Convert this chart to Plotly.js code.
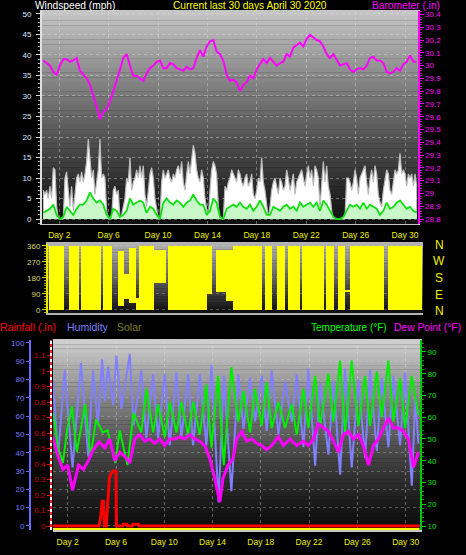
<!DOCTYPE html>
<html>
<head>
<meta charset="utf-8">
<script src="https://cdn.plot.ly/plotly-3.0.1.min.js"></script>
<style>
html,body{margin:0;padding:0;background:#000;}
#chart{width:466px;height:555px;}
</style>
</head>
<body>
<div id="chart"></div>
<script>
// ---------- DATA ----------
const dayTicks = [2, 6, 10, 14, 18, 22, 26, 30];
const dayLabels = ['Day 2', 'Day 6', 'Day 10', 'Day 14', 'Day 18', 'Day 22', 'Day 26', 'Day 30'];

// wind gust (mph), sampled every 0.135 day from day 0.704
const gustStart = 0.704, gustStep = 0.135;
const windGust = [
  7,6,7,5,8,5,12.5,12,3,0,0,0,0,10,11.5,7,3,8,2,6,
  10,11,9,11.5,9,11,14,19.5,14,10,12,6,9,12,19.5,10,11,10,2,0,
  0,0,7,8,6,7,0,1,3,5,10,9,15,7,9,10,12,10,13,10,
  13,6,3,8,11,12.5,10,5,2,0,0,9,12,10,11,12,10,9,11,10,
  12,13,11,14,9,7,11,14,11,15,18,16,12,10,9,12,10,5,2,0,
  7,12,14,13,11,3,0,0,0,8,7,9,10,12,11,10,9,12,11,9,
  8,10,11,8,9,11,6,5,7,10,9,15,9,7,3,0,3,7,9,10,
  8,6,10,9,7,8,12,10,7,9,11,6,9,10,11,12,10,8,11,13,
  10,12,8,13,12,10,3,10,14,9,13,8,6,2,0,0,0,0,0,0,
  0,0,10,10,9,7,9,12,10,6,10,11,12,13,9,6,10,12,9,13,
  11,6,4,3,7,10,12,11,7,6,9,12,11,12,16,11,12,11,8,11,
  10,11,8,11,8
];

// average wind (mph) and barometer (inHg), sampled every 0.27 day from day 0.704
const avgStart = 0.704, avgStep = 0.27;
const windAvg = [
  1.5,2,2.5,3.5,1,0,0.5,3,2,1,
  2.5,3.5,3.5,4.5,6.5,5,4,4.5,3.5,1,
  0,2.5,2,0.5,1,2,5,3.5,4,4.5,
  4,1.5,3,2.5,1,0,4,5,4,3.5,
  4.5,4,3,4,4.5,6,4.5,3.5,3.5,1,
  2,5,4,0.5,0,2.5,3,3.5,3,4,
  3,2.5,3.5,2,3,4.5,3,1,1,3,
  2.5,2,3,3.5,2.5,3,2,4,3,3.5,
  4,3,4,2,4.5,3.5,2,0.5,0,0,
  0.5,2,3.5,3,3.5,2.5,4,2.5,3.5,3,
  2.5,1,2,4,2.5,3,4,4.5,3.5,2.5,
  3,2,1.5
];
const barometer = [
  30.04,30.02,30.00,29.95,29.93,30.00,30.05,30.05,30.03,30.04,
  30.06,29.96,29.93,29.90,29.85,29.77,29.68,29.58,29.64,29.66,
  29.72,29.80,29.88,29.97,30.06,30.09,30.00,29.92,29.92,29.90,
  29.88,29.94,29.98,30.00,30.03,30.04,29.98,29.98,30.02,30.01,
  29.98,29.97,29.96,29.99,29.97,29.98,30.06,30.12,30.07,30.15,
  30.19,30.20,30.11,30.09,30.04,29.93,29.88,29.89,29.87,29.80,
  29.85,29.87,29.92,29.90,29.97,30.01,30.05,30.02,30.06,30.03,
  30.00,30.02,30.03,30.09,30.07,30.14,30.16,30.18,30.15,30.21,
  30.24,30.22,30.20,30.19,30.15,30.09,30.06,30.09,30.04,30.00,
  30.01,30.02,29.97,29.95,29.97,29.98,29.97,30.00,30.06,30.07,
  30.04,30.04,30.02,29.95,29.94,29.95,29.98,29.96,30.01,30.03,
  30.08,30.03,30.03
];

// wind direction spans (day start/end, degrees low/high)
const dirStart = [0.80,2.40,3.37,5.13,6.33,6.82,7.22,7.78,8.02,9.22,10.35,13.47,14.20,15.00,15.56,18.13,19.09,19.97,21.09,23.02,23.98,24.54,24.94,27.99];
const dirEnd   = [2.00,3.21,4.97,5.85,6.82,7.22,7.78,8.02,9.22,10.18,13.47,13.87,15.00,15.56,17.89,18.69,19.73,20.93,22.86,23.66,24.54,24.94,27.67,30.72];
const dirLow   = [0,0,0,0,20,60,40,0,0,150,0,90,100,50,0,0,0,0,0,0,0,100,0,0];
const dirHigh  = [360,360,360,360,330,200,350,70,360,340,360,360,340,340,360,360,360,360,360,360,360,115,360,360];
const compass = ['N', 'W', 'S', 'E', 'N'];

// temperature (F)
const tempX = [0.78,1.2,1.6,1.95,2.35,2.75,3.45,3.9,4.35,4.9,5.3,5.95,6.3,6.95,7.45,8.1,8.52,9.07,9.49,10.04,10.45,11.01,11.42,11.97,12.39,12.94,13.49,13.91,14.46,14.93,15.56,16.14,16.56,17.11,17.52,18.08,18.49,18.90,19.46,20.01,20.56,20.98,21.53,21.94,22.50,22.91,23.60,24.02,24.57,24.98,25.53,26.09,26.64,27.05,27.61,28.02,28.57,28.99,29.54,29.95,30.51,31.06];
const tempY = [62,46,39,54,65,44,66,42,59,53,54,39,54,38,62,53,73,53,66,51,67,53,67,52,67,52,75,46,79,38,83,58,72,53,73,56,76,55,67,55,66,52,73,55,79,56,80,58,86,53,86,56,79,56,81,60,86,58,78,55,79,61];

// humidity (%)
const humX = [0.78,1.2,1.75,2.4,3.1,3.7,4.1,4.5,4.85,5.07,5.34,5.76,6.03,6.45,7.14,7.45,8.1,8.52,9.07,9.49,10.04,10.45,11.01,11.42,11.97,12.39,12.94,13.49,13.91,14.5,14.93,
  15.56,16.14,16.56,17.11,17.52,18.08,18.49,18.90,19.46,20.01,20.56,20.98,21.53,21.94,22.50,22.91,23.60,24.02,24.57,24.98,25.53,26.09,26.64,27.05,27.61,28.02,28.57,28.99,29.54,29.95,30.51,30.8,31.06];
const humY = [80,38,85,32,89,38,85,55,91,68,87,66,93,64,94,55,85,48,83,48,83,44,84,48,83,44,83,44,88,13,82,
  19,83,53,81,57,82,52,85,50,79,57,83,43,86,33,78,39,79,28,86,32,80,37,85,41,81,43,82,44,84,22,70,45];

// dew point (F)
const dewX = [0.78,1.2,1.6,2.0,2.4,2.9,3.3,3.7,4.1,4.6,5.07,5.48,5.9,6.31,6.72,7.14,7.55,7.97,8.38,8.8,9.21,9.62,10.04,10.45,10.87,11.28,11.7,12.11,12.52,12.94,13.35,13.77,14.18,14.6,14.87,15.29,15.7,16.0,16.42,16.83,17.25,17.66,18.08,18.49,18.9,19.46,19.87,20.42,20.98,21.53,21.94,22.36,22.77,23.19,23.6,24.02,24.43,24.84,25.26,25.67,26.09,26.5,26.92,27.33,27.74,28.16,28.57,28.99,29.4,29.82,30.23,30.65,31.06];
const dewY = [51,42,36,38,26.5,38,36,40,45,48.6,46,50,40,44,42,39,50,52,49,50,48,50,47,50,50,51,50,52,50,49,47,41,32,21,32,38,41,50,53.5,49,50,48,47,45,47,51,47,50,47,49,47,50,57,55,53.5,49,44,52,53.5,50,52,47,38,47,50,55,59.6,55,55,53.5,50,37,44];

// rainfall (in)
const rainX = [0.78,4.6,4.75,4.85,4.95,5.05,5.2,5.3,5.45,5.6,5.75,6.0,6.03,6.55,6.6,6.9,6.95,7.35,7.4,7.85,7.9,31.15];
const rainY = [0,0,0.07,0.16,0.16,0,0,0.1,0.31,0.34,0.355,0.355,0,0,0.012,0.012,0,0,0.012,0.012,0,0];

// solar
const solarX = [0.78, 31.15];
const solarY = [0, 0];

// ---------- LAYOUT HELPERS ----------
const W = 466, H = 555;
const fx = p => p / W;
const fy = p => 1 - p / H;
const FONT = 'Liberation Sans, Arial, sans-serif';

const seq = (start, step, n) => Array.from({length: n}, (_, i) => start + i * step);

const shapes = [];
function gradient(x0, x1, y0, y1, cTop, cBot, g, n) {
  for (let i = 0; i < n; i++) {
    const t = (i + 0.5) / n;
    const c = Math.round(cBot + (cTop - cBot) * Math.pow(1 - t, g));
    shapes.push({type: 'rect', xref: 'paper', yref: 'paper', layer: 'below',
      x0: fx(x0), x1: fx(x1),
      y0: fy(y0 + i * (y1 - y0) / n), y1: fy(y0 + (i + 1) * (y1 - y0) / n + 0.3),
      fillcolor: `rgb(${c},${c},${c})`, line: {width: 0}});
  }
}
gradient(42, 418, 11, 224, 198, 16, 1.1, 45);
gradient(48, 423, 244, 313, 178, 14, 1.0, 25);
gradient(53, 420, 340, 530, 208, 12, 1.3, 45);
// red / white dashed rain axis
shapes.push({type: 'line', xref: 'paper', yref: 'paper', layer: 'above',
  x0: fx(51), x1: fx(51), y0: fy(530), y1: fy(340), line: {color: '#ffffff', width: 2, dash: 'dot'}});

const annotations = [];
function label(text, xpx, ypx, color, size, anchor) {
  annotations.push({text, xref: 'paper', yref: 'paper', x: fx(xpx), y: fy(ypx),
    xanchor: anchor || 'left', yanchor: 'middle', showarrow: false,
    font: {family: FONT, size: size, color: color}, borderpad: 0});
}
label('Windspeed (mph)', 34, 5.6, '#ffffff', 10.2);
label('Current last 30 days April 30 2020', 172, 5.6, '#ffff00', 10.2);
label('Barometer (.in)', 371, 5.6, '#ff00ff', 10.2);
const compassY = [245, 261, 278, 295, 311];
compass.forEach((c, i) => label(c, 439, compassY[i], '#f0f000', 12, 'center'));
label('Rainfall (.in)', -1, 327, '#ff0000', 10.5);
label('Humidity', 66, 327, '#8080ff', 10.5);
label('Solar', 116, 327, '#808028', 10.5);
label('Temperature (°F)', 310, 327, '#00ff00', 10);
label('Dew Point (°F)', 393, 327, '#ff00ff', 10.3);

const tickFont = c => ({family: FONT, size: 8, color: c});
const dayFont = {family: FONT, size: 8.5, color: '#eeee00'};
const gridDot = {showgrid: true, gridcolor: 'rgba(225,225,225,0.4)', griddash: 'dot', gridwidth: 1};

// ---------- TRACES ----------
const traces = [
  {x: seq(gustStart, gustStep, windGust.length), y: windGust, type: 'scatter', mode: 'lines',
   fill: 'tozeroy', fillcolor: '#ffffff', line: {color: '#bdbdbd', width: 1.2},
   xaxis: 'x', yaxis: 'y', hoverinfo: 'skip'},
  {x: seq(avgStart, avgStep, windAvg.length), y: windAvg, type: 'scatter', mode: 'lines',
   fill: 'tozeroy', fillcolor: '#c8f8c8', line: {color: '#10e010', width: 1.8},
   xaxis: 'x', yaxis: 'y', hoverinfo: 'skip'},
  {x: seq(avgStart, avgStep, barometer.length), y: barometer, type: 'scatter', mode: 'lines',
   line: {color: '#ff00ff', width: 2}, xaxis: 'x', yaxis: 'y2', hoverinfo: 'skip'},
  {x: dirStart.map((s, i) => (s + dirEnd[i]) / 2), width: dirStart.map((s, i) => dirEnd[i] - s),
   base: dirLow, y: dirHigh.map((h, i) => h - dirLow[i]), type: 'bar',
   marker: {color: '#ffff00', line: {width: 0}}, xaxis: 'x2', yaxis: 'y3', hoverinfo: 'skip'},
  {x: humX, y: humY, type: 'scatter', mode: 'lines', line: {color: '#8080ff', width: 2},
   xaxis: 'x3', yaxis: 'y4', hoverinfo: 'skip'},
  {x: tempX, y: tempY, type: 'scatter', mode: 'lines', line: {color: '#00ee00', width: 2},
   xaxis: 'x3', yaxis: 'y5', hoverinfo: 'skip'},
  {x: dewX, y: dewY, type: 'scatter', mode: 'lines', line: {color: '#ff00ff', width: 3},
   xaxis: 'x3', yaxis: 'y5', hoverinfo: 'skip'},
  {x: solarX, y: solarY, type: 'scatter', mode: 'lines', line: {color: '#ffff00', width: 2},
   xaxis: 'x3', yaxis: 'y6', hoverinfo: 'skip'},
  {x: rainX, y: rainY, type: 'scatter', mode: 'lines', line: {color: '#ff0000', width: 3},
   xaxis: 'x3', yaxis: 'y7', hoverinfo: 'skip'}
];

const layout = {
  width: W, height: H,
  margin: {l: 0, r: 0, t: 0, b: 0},
  paper_bgcolor: '#000000', plot_bgcolor: 'rgba(0,0,0,0)',
  showlegend: false, bargap: 0,
  font: {family: FONT},
  xaxis: Object.assign({domain: [fx(42), fx(418)], anchor: 'y', range: [0.6, 31.05],
    tickvals: dayTicks, ticktext: dayLabels, tickfont: dayFont, ticks: 'outside', ticklen: 3,
    tickcolor: 'rgba(0,0,0,0)', showline: true, linecolor: '#c8c8c8', linewidth: 1, mirror: true,
    zeroline: false, fixedrange: true}, gridDot),
  yaxis: Object.assign({domain: [fy(224), fy(11)], anchor: 'x', range: [-1.22, 50.73],
    tickvals: [0,5,10,15,20,25,30,35,40,45,50], tickfont: tickFont('#dce6ff'),
    ticks: 'outside', ticklen: 4, tickcolor: '#d8d8d8', showline: true, linecolor: '#e0e0e0',
    linewidth: 2, zeroline: false, ticklabelstandoff: 3,
    minor: {dtick: 1, ticks: 'outside', ticklen: 2, tickcolor: '#b0b0b0', showgrid: false}}, gridDot),
  yaxis2: {overlaying: 'y', side: 'right', anchor: 'x', range: [28.761, 30.427],
    tickvals: [28.8,28.9,29,29.1,29.2,29.3,29.4,29.5,29.6,29.7,29.8,29.9,30,30.1,30.2,30.3,30.4],
    tickfont: tickFont('#ff00ff'), ticks: 'outside', ticklen: 4, tickcolor: '#ff00ff',
    showline: true, linecolor: '#ff00ff', linewidth: 1.5, showgrid: false, zeroline: false,
    minor: {dtick: 0.02, ticks: 'outside', ticklen: 2, tickcolor: '#c000c0'}},
  xaxis2: {domain: [fx(48), fx(423)], anchor: 'y3', range: [0.72, 30.8], showticklabels: false,
    ticks: '', showgrid: false, zeroline: false, showline: true, linecolor: '#b4b4b4',
    linewidth: 2, mirror: true},
  yaxis3: {domain: [fy(313), fy(244)], anchor: 'x2', range: [-17, 371],
    tickvals: [0, 90, 180, 270, 360], tickfont: tickFont('#d8d870'), ticks: 'outside', ticklen: 4,
    tickcolor: '#e0e000', showline: true, linecolor: '#e8e800', linewidth: 2, zeroline: false,
    showgrid: true, gridcolor: 'rgba(200,200,200,0.35)', griddash: 'dot',
    minor: {dtick: 15, ticks: 'outside', ticklen: 2, tickcolor: '#b0b000'}},
  xaxis3: Object.assign({domain: [fx(53), fx(420)], anchor: 'y4', range: [0.78, 31.19],
    tickvals: dayTicks, ticktext: dayLabels, tickfont: dayFont, ticks: 'outside', ticklen: 3,
    tickcolor: 'rgba(0,0,0,0)', showline: true, linecolor: '#c8c8c8', linewidth: 1.5, mirror: true,
    zeroline: false}, gridDot),
  yaxis4: Object.assign({domain: [fy(530), fy(340)], anchor: 'free', position: fx(30), side: 'left',
    range: [-2.19, 101.6], tickvals: [0,10,20,30,40,50,60,70,80,90,100],
    tickfont: tickFont('#7878ff'), ticks: 'outside', ticklen: 3, tickcolor: '#6a6aff',
    showline: true, linecolor: '#6a6aff', linewidth: 2, zeroline: false}, gridDot,
    {gridcolor: 'rgba(220,220,220,0.3)'}),
  yaxis5: {overlaying: 'y4', side: 'right', anchor: 'x3', range: [8.16, 95.5],
    tickvals: [10,20,30,40,50,60,70,80,90], tickfont: tickFont('#00e000'), ticks: 'outside',
    ticklen: 4, tickcolor: '#00d000', showline: true, linecolor: '#00c800', linewidth: 2,
    showgrid: false, zeroline: false,
    minor: {dtick: 2, ticks: 'outside', ticklen: 2, tickcolor: '#00a000'}},
  yaxis6: {overlaying: 'y4', visible: false, range: [-0.5, 100]},
  yaxis7: {overlaying: 'y4', anchor: 'free', position: fx(51), side: 'left',
    range: [-0.0258, 1.2], tickvals: [0,0.1,0.2,0.3,0.4,0.5,0.6,0.7,0.8,0.9,1,1.1],
    tickfont: tickFont('#d00000'), ticks: 'outside', ticklen: 3, tickcolor: '#ff0000',
    showline: true, linecolor: '#ff2020', linewidth: 2, showgrid: false, zeroline: false},
  shapes: shapes,
  annotations: annotations
};

Plotly.newPlot('chart', traces, layout, {displayModeBar: false, staticPlot: true});
</script>
</body>
</html>
